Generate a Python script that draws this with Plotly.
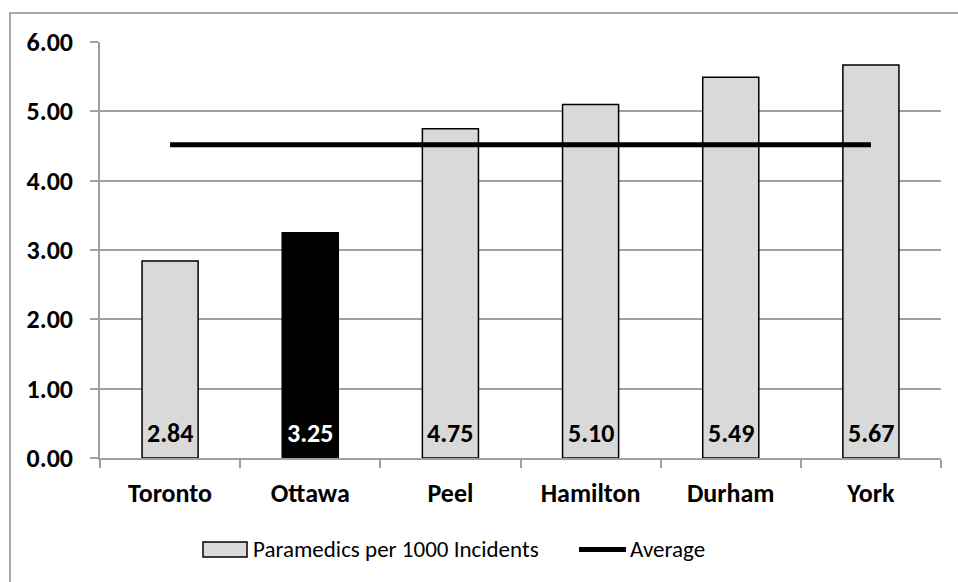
import numpy as np
import plotly.graph_objects as go

# Paramedics per 1000 incidents by service
services = ["Toronto", "Ottawa", "Peel", "Hamilton", "Durham", "York"]
paramedics_per_1000 = [2.84, 3.25, 4.75, 5.10, 5.49, 5.67]
highlight = "Ottawa"
y_ticks = [0, 1, 2, 3, 4, 5, 6]
series_name = "Paramedics per 1000 Incidents"
average_name = "Average"

average = float(np.mean(paramedics_per_1000))

W, H = 958, 582
ML, MR, MT, MB = 100, 17, 42, 124
PW, PH = W - ML - MR, H - MT - MB

FONT = "Calibri, Carlito, Lato, sans-serif"
GRID = "#a0a0a0"
BOLD_SIZE = 26
TEXT_SIZE = 23

def px_x(x):
    return (x - ML) / PW

def px_y(y):
    return (H - MB - y) / PH

fill = ["#000000" if s == highlight else "#d9d9d9" for s in services]

fig = go.Figure()
fig.add_trace(go.Bar(
    x=services, y=paramedics_per_1000, width=0.4,
    marker=dict(color=fill, line=dict(color="#000000", width=1.5)),
    name=series_name, showlegend=False, hoverinfo="x+y",
))
fig.add_trace(go.Scatter(
    x=services, y=[average] * len(services), mode="lines",
    line=dict(color="#000000", width=5),
    name=average_name, showlegend=False,
))

annotations = []
for s, v in zip(services, paramedics_per_1000):
    annotations.append(dict(
        x=s, y=0, xref="x", yref="y", text=f"<b>{v:.2f}</b>", showarrow=False,
        yanchor="middle", yshift=25,
        font=dict(family=FONT, size=BOLD_SIZE, color="#ffffff" if s == highlight else "#000000"),
    ))

# legend drawn as shapes + text
shapes = [
    dict(type="rect", xref="paper", yref="paper",
         x0=px_x(10), x1=px_x(1000), y0=px_y(700), y1=px_y(13),
         line=dict(color="#8c8c8c", width=1.5), fillcolor="rgba(0,0,0,0)", layer="below"),
    dict(type="rect", xref="paper", yref="paper",
         x0=px_x(203), x1=px_x(247), y0=px_y(557), y1=px_y(542),
         line=dict(color="#000000", width=1.5), fillcolor="#d9d9d9"),
    dict(type="line", xref="paper", yref="paper",
         x0=px_x(579), x1=px_x(626), y0=px_y(549.5), y1=px_y(549.5),
         line=dict(color="#000000", width=5)),
]
annotations.append(dict(
    x=px_x(251), y=px_y(549), xref="paper", yref="paper", text=series_name,
    showarrow=False, xanchor="left", yanchor="middle",
    font=dict(family=FONT, size=TEXT_SIZE, color="#000000"),
))
annotations.append(dict(
    x=px_x(628), y=px_y(549), xref="paper", yref="paper", text=average_name,
    showarrow=False, xanchor="left", yanchor="middle",
    font=dict(family=FONT, size=TEXT_SIZE, color="#000000"),
))

fig.update_layout(
    width=W, height=H,
    margin=dict(l=ML, r=MR, t=MT, b=MB),
    paper_bgcolor="#ffffff", plot_bgcolor="#ffffff",
    showlegend=False,
    annotations=annotations, shapes=shapes,
    font=dict(family=FONT, color="#000000"),
)
fig.update_xaxes(
    type="category", showgrid=False, showline=True, linecolor=GRID, linewidth=1.5,
    ticks="outside", tickson="boundaries", ticklen=8, tickcolor=GRID, tickwidth=1.5,
    tickfont=dict(family=FONT, size=BOLD_SIZE, color="#000000"),
    tickvals=services, ticktext=[f"<b>{s}</b>" for s in services],
    ticklabelstandoff=11,
)
fig.update_yaxes(
    range=[0, 6], tickvals=y_ticks, ticktext=[f"<b>{t:.2f}</b>" for t in y_ticks],
    showgrid=True, gridcolor=GRID, gridwidth=1.5, zeroline=False,
    showline=True, linecolor=GRID, linewidth=1.5,
    ticks="outside", ticklen=8, tickcolor=GRID, tickwidth=1.5,
    tickfont=dict(family=FONT, size=BOLD_SIZE, color="#000000"),
    ticklabelstandoff=12,
)

fig.write_html("out.html")
